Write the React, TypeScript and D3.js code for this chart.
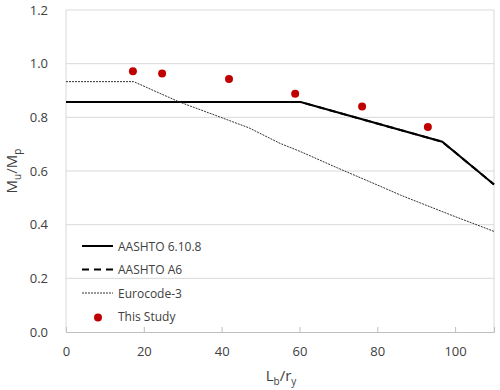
import React, { useEffect, useRef } from 'react';
import * as d3 from 'd3';

// AASHTO 6.10.8 (solid)
const aashtoX = [0, 60.3, 96.7, 110];
const aashtoY = [0.857, 0.857, 0.709, 0.55];

// AASHTO A6 (dashed) - lies under the 6.10.8 curve
const a6X = [0, 60.3, 96.7, 110];
const a6Y = [0.857, 0.857, 0.709, 0.55];

// Eurocode-3 (dotted)
const euroX = [0, 17.4, 29, 47, 55, 60, 70, 80, 86, 90, 100, 110];
const euroY = [0.933, 0.933, 0.858, 0.761, 0.703, 0.674, 0.61, 0.548, 0.51, 0.487, 0.43, 0.375];

// This Study
const studyX = [17.2, 24.7, 41.9, 58.9, 76.1, 93.0];
const studyY = [0.972, 0.963, 0.943, 0.888, 0.84, 0.764];

const xTicks = [0, 20, 40, 60, 80, 100];
const yTicks = [0, 0.2, 0.4, 0.6, 0.8, 1.0, 1.2];

const legendNames = ['AASHTO 6.10.8', 'AASHTO A6', 'Eurocode-3', 'This Study'];

export default function App() {
    const svgRef = useRef<SVGSVGElement>(null);

    const width = 500;
    const height = 390;
    const margin = { top: 10, right: 6, bottom: 58, left: 66 };
    const innerWidth = width - margin.left - margin.right;
    const innerHeight = height - margin.top - margin.bottom;
    const font = 'Open Sans, sans-serif';

    useEffect(() => {
        const svg = d3.select(svgRef.current);
        svg.selectAll('*').remove();

        const x = d3.scaleLinear().domain([0, 110]).range([0, innerWidth]);
        const y = d3.scaleLinear().domain([0, 1.2]).range([innerHeight, 0]);

        const g = svg.append('g')
            .attr('transform', `translate(${margin.left}, ${margin.top})`);

        // gridlines
        g.selectAll('.grid')
            .data(yTicks.slice(1))
            .enter()
            .append('line')
            .attr('x1', 0)
            .attr('x2', innerWidth)
            .attr('y1', d => y(d))
            .attr('y2', d => y(d))
            .attr('stroke', '#d9d9d9')
            .attr('stroke-width', 1);

        // borders
        g.append('line')
            .attr('x1', 0).attr('x2', 0)
            .attr('y1', 0).attr('y2', innerHeight)
            .attr('stroke', '#d9d9d9');
        g.append('line')
            .attr('x1', innerWidth).attr('x2', innerWidth)
            .attr('y1', 0).attr('y2', innerHeight)
            .attr('stroke', '#d9d9d9');

        // bottom axis
        const xAxisG = g.append('g')
            .attr('transform', `translate(0, ${innerHeight})`)
            .call(d3.axisBottom(x).tickValues(xTicks).tickSize(-5).tickPadding(15).tickFormat(d3.format('d')));
        xAxisG.select('.domain').attr('stroke', '#bfbfbf');
        xAxisG.selectAll('.tick line').attr('stroke', '#bfbfbf');
        xAxisG.selectAll('.tick text')
            .attr('font-family', font)
            .attr('font-size', 13)
            .attr('fill', '#404040');

        // left labels
        const yAxisG = g.append('g')
            .call(d3.axisLeft(y).tickValues(yTicks).tickSize(0).tickPadding(18).tickFormat(d3.format('.1f')));
        yAxisG.select('.domain').remove();
        yAxisG.selectAll('.tick text')
            .attr('font-family', font)
            .attr('font-size', 13)
            .attr('fill', '#404040');

        const line = d3.line<[number, number]>()
            .x(d => x(d[0]))
            .y(d => y(d[1]));

        const a6 = a6X.map((v, i) => [v, a6Y[i]] as [number, number]);
        const aashto = aashtoX.map((v, i) => [v, aashtoY[i]] as [number, number]);
        const euro = euroX.map((v, i) => [v, euroY[i]] as [number, number]);

        g.append('path')
            .attr('d', line(a6))
            .attr('fill', 'none')
            .attr('stroke', '#000')
            .attr('stroke-width', 2)
            .attr('stroke-dasharray', '7,5');

        g.append('path')
            .attr('d', line(aashto))
            .attr('fill', 'none')
            .attr('stroke', '#000')
            .attr('stroke-width', 2);

        g.append('path')
            .attr('d', line(euro))
            .attr('fill', 'none')
            .attr('stroke', '#333')
            .attr('stroke-width', 1)
            .attr('stroke-dasharray', '2,1');

        g.selectAll('.dot')
            .data(studyX)
            .enter()
            .append('circle')
            .attr('cx', d => x(d))
            .attr('cy', (d, i) => y(studyY[i]))
            .attr('r', 4)
            .attr('fill', '#c00000');

        // legend
        const lg = svg.append('g').attr('transform', 'translate(82, 246)');
        const rowH = 23.5;
        const styles = [
            { stroke: '#000', w: 2, dash: null },
            { stroke: '#000', w: 2, dash: '7,5' },
            { stroke: '#333', w: 1, dash: '2,1' },
        ];
        styles.forEach((s, i) => {
            lg.append('line')
                .attr('x1', 0).attr('x2', 31)
                .attr('y1', i * rowH).attr('y2', i * rowH)
                .attr('stroke', s.stroke)
                .attr('stroke-width', s.w)
                .attr('stroke-dasharray', s.dash);
        });
        lg.append('circle')
            .attr('cx', 16)
            .attr('cy', 3 * rowH + 1)
            .attr('r', 4)
            .attr('fill', '#c00000');
        lg.selectAll('.lt')
            .data(legendNames)
            .enter()
            .append('text')
            .attr('x', 36)
            .attr('y', (d, i) => i * rowH + 4.5)
            .attr('font-family', font)
            .attr('font-size', 12)
            .attr('fill', '#404040')
            .text(d => d);

        // axis titles
        const yt = svg.append('text')
            .attr('transform', `translate(17, ${margin.top + innerHeight / 2}) rotate(-90)`)
            .attr('text-anchor', 'middle')
            .attr('font-family', font)
            .attr('font-size', 15)
            .attr('fill', '#404040');
        yt.append('tspan').text('M');
        yt.append('tspan').attr('font-size', 10).attr('dy', 4).text('u');
        yt.append('tspan').attr('dy', -4).text('/M');
        yt.append('tspan').attr('font-size', 10).attr('dy', 4).text('p');

        const xt = svg.append('text')
            .attr('x', margin.left + innerWidth / 2 + 1)
            .attr('y', 381)
            .attr('text-anchor', 'middle')
            .attr('font-family', font)
            .attr('font-size', 15)
            .attr('fill', '#404040');
        xt.append('tspan').text('L');
        xt.append('tspan').attr('font-size', 10).attr('dy', 4).text('b');
        xt.append('tspan').attr('dy', -4).text('/r');
        xt.append('tspan').attr('font-size', 10).attr('dy', 4).text('y');
    }, []);

    return (
        <svg ref={svgRef} width={width} height={height}
            style={{ position: 'absolute', left: 0, top: 0, background: '#fff' }} />
    );
}
